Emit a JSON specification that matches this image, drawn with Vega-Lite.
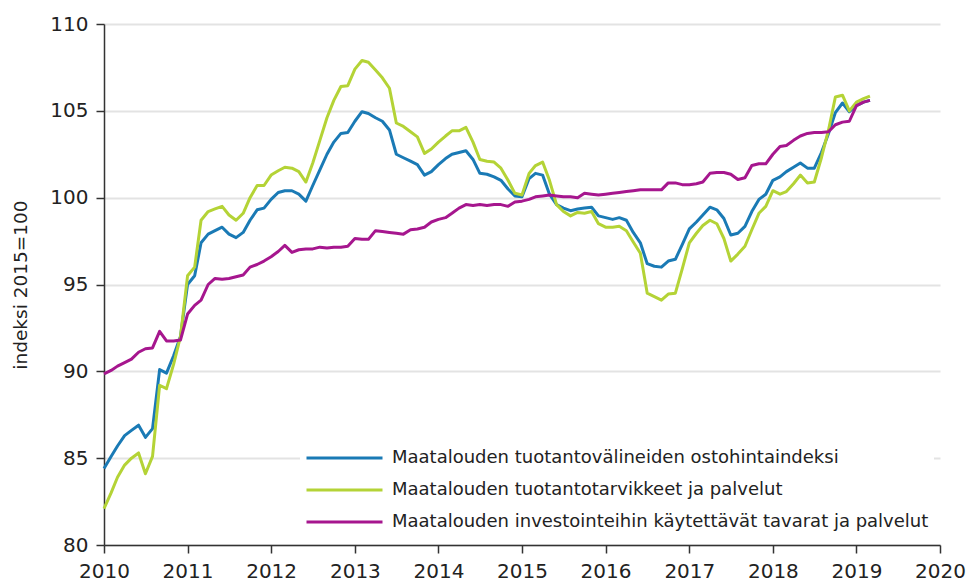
{
  "$schema": "https://vega.github.io/schema/vega-lite/v6.json",
  "width": 836,
  "height": 521,
  "autosize": "none",
  "padding": {"left": 104, "top": 24, "right": 28, "bottom": 41},
  "background": "white",
  "config": {"view": {"stroke": null}, "font": "DejaVu Sans"},
  "data": {
    "format": {"parse": {"d": "date:'%Y-%m'"}},
    "values": [
      {"d":"2010-01","a":84.4,"b":82.1,"c":89.85},
      {"d":"2010-02","a":85.1,"b":83.0,"c":90.05},
      {"d":"2010-03","a":85.7,"b":83.9,"c":90.3},
      {"d":"2010-04","a":86.3,"b":84.6,"c":90.5},
      {"d":"2010-05","a":86.6,"b":85.0,"c":90.7},
      {"d":"2010-06","a":86.9,"b":85.3,"c":91.1},
      {"d":"2010-07","a":86.2,"b":84.1,"c":91.3},
      {"d":"2010-08","a":86.7,"b":85.1,"c":91.35},
      {"d":"2010-09","a":90.1,"b":89.2,"c":92.3},
      {"d":"2010-10","a":89.9,"b":89.0,"c":91.75},
      {"d":"2010-11","a":90.9,"b":90.4,"c":91.75},
      {"d":"2010-12","a":92.0,"b":92.0,"c":91.8},
      {"d":"2011-01","a":95.0,"b":95.5,"c":93.3},
      {"d":"2011-02","a":95.5,"b":96.0,"c":93.8},
      {"d":"2011-03","a":97.4,"b":98.7,"c":94.1},
      {"d":"2011-04","a":97.9,"b":99.2,"c":95.0},
      {"d":"2011-05","a":98.1,"b":99.35,"c":95.35},
      {"d":"2011-06","a":98.3,"b":99.5,"c":95.3},
      {"d":"2011-07","a":97.9,"b":99.0,"c":95.35},
      {"d":"2011-08","a":97.7,"b":98.7,"c":95.45},
      {"d":"2011-09","a":98.0,"b":99.1,"c":95.55},
      {"d":"2011-10","a":98.7,"b":100.0,"c":96.0},
      {"d":"2011-11","a":99.3,"b":100.7,"c":96.15},
      {"d":"2011-12","a":99.4,"b":100.7,"c":96.35},
      {"d":"2012-01","a":99.9,"b":101.3,"c":96.6},
      {"d":"2012-02","a":100.3,"b":101.55,"c":96.9},
      {"d":"2012-03","a":100.4,"b":101.75,"c":97.25},
      {"d":"2012-04","a":100.4,"b":101.7,"c":96.85},
      {"d":"2012-05","a":100.2,"b":101.5,"c":97.0},
      {"d":"2012-06","a":99.8,"b":100.9,"c":97.05},
      {"d":"2012-07","a":100.7,"b":102.0,"c":97.05},
      {"d":"2012-08","a":101.6,"b":103.3,"c":97.15},
      {"d":"2012-09","a":102.5,"b":104.6,"c":97.1},
      {"d":"2012-10","a":103.2,"b":105.6,"c":97.15},
      {"d":"2012-11","a":103.7,"b":106.4,"c":97.15},
      {"d":"2012-12","a":103.75,"b":106.45,"c":97.2},
      {"d":"2013-01","a":104.4,"b":107.4,"c":97.65},
      {"d":"2013-02","a":104.95,"b":107.9,"c":97.6},
      {"d":"2013-03","a":104.85,"b":107.8,"c":97.6},
      {"d":"2013-04","a":104.6,"b":107.35,"c":98.1},
      {"d":"2013-05","a":104.4,"b":106.9,"c":98.05},
      {"d":"2013-06","a":103.9,"b":106.3,"c":98.0},
      {"d":"2013-07","a":102.5,"b":104.3,"c":97.95},
      {"d":"2013-08","a":102.3,"b":104.1,"c":97.9},
      {"d":"2013-09","a":102.1,"b":103.8,"c":98.15},
      {"d":"2013-10","a":101.9,"b":103.5,"c":98.2},
      {"d":"2013-11","a":101.3,"b":102.55,"c":98.3},
      {"d":"2013-12","a":101.5,"b":102.8,"c":98.6},
      {"d":"2014-01","a":101.9,"b":103.2,"c":98.75},
      {"d":"2014-02","a":102.25,"b":103.55,"c":98.85},
      {"d":"2014-03","a":102.5,"b":103.85,"c":99.1},
      {"d":"2014-04","a":102.6,"b":103.85,"c":99.4},
      {"d":"2014-05","a":102.7,"b":104.05,"c":99.6},
      {"d":"2014-06","a":102.2,"b":103.2,"c":99.55},
      {"d":"2014-07","a":101.4,"b":102.2,"c":99.6},
      {"d":"2014-08","a":101.35,"b":102.1,"c":99.55},
      {"d":"2014-09","a":101.2,"b":102.05,"c":99.6},
      {"d":"2014-10","a":101.0,"b":101.7,"c":99.6},
      {"d":"2014-11","a":100.5,"b":101.0,"c":99.5},
      {"d":"2014-12","a":100.1,"b":100.25,"c":99.75},
      {"d":"2015-01","a":100.05,"b":100.15,"c":99.8},
      {"d":"2015-02","a":101.1,"b":101.4,"c":99.9},
      {"d":"2015-03","a":101.4,"b":101.85,"c":100.05},
      {"d":"2015-04","a":101.3,"b":102.05,"c":100.1},
      {"d":"2015-05","a":100.2,"b":101.0,"c":100.15},
      {"d":"2015-06","a":99.6,"b":99.6,"c":100.1},
      {"d":"2015-07","a":99.4,"b":99.2,"c":100.05},
      {"d":"2015-08","a":99.25,"b":98.95,"c":100.05},
      {"d":"2015-09","a":99.35,"b":99.15,"c":100.0},
      {"d":"2015-10","a":99.4,"b":99.1,"c":100.25},
      {"d":"2015-11","a":99.45,"b":99.2,"c":100.2},
      {"d":"2015-12","a":98.95,"b":98.5,"c":100.15},
      {"d":"2016-01","a":98.85,"b":98.3,"c":100.2},
      {"d":"2016-02","a":98.75,"b":98.3,"c":100.25},
      {"d":"2016-03","a":98.85,"b":98.35,"c":100.3},
      {"d":"2016-04","a":98.7,"b":98.1,"c":100.35},
      {"d":"2016-05","a":98.0,"b":97.45,"c":100.4},
      {"d":"2016-06","a":97.4,"b":96.8,"c":100.45},
      {"d":"2016-07","a":96.2,"b":94.5,"c":100.45},
      {"d":"2016-08","a":96.05,"b":94.3,"c":100.45},
      {"d":"2016-09","a":96.0,"b":94.1,"c":100.45},
      {"d":"2016-10","a":96.35,"b":94.45,"c":100.85},
      {"d":"2016-11","a":96.45,"b":94.5,"c":100.85},
      {"d":"2016-12","a":97.3,"b":95.9,"c":100.75},
      {"d":"2017-01","a":98.2,"b":97.4,"c":100.75},
      {"d":"2017-02","a":98.6,"b":97.95,"c":100.8},
      {"d":"2017-03","a":99.0,"b":98.4,"c":100.9},
      {"d":"2017-04","a":99.45,"b":98.7,"c":101.4},
      {"d":"2017-05","a":99.3,"b":98.5,"c":101.45},
      {"d":"2017-06","a":98.8,"b":97.65,"c":101.45},
      {"d":"2017-07","a":97.85,"b":96.35,"c":101.35},
      {"d":"2017-08","a":97.95,"b":96.75,"c":101.05},
      {"d":"2017-09","a":98.35,"b":97.2,"c":101.15},
      {"d":"2017-10","a":99.2,"b":98.15,"c":101.85},
      {"d":"2017-11","a":99.9,"b":99.1,"c":101.95},
      {"d":"2017-12","a":100.2,"b":99.5,"c":101.95},
      {"d":"2018-01","a":101.0,"b":100.4,"c":102.5},
      {"d":"2018-02","a":101.2,"b":100.2,"c":102.95},
      {"d":"2018-03","a":101.5,"b":100.35,"c":103.0},
      {"d":"2018-04","a":101.75,"b":100.8,"c":103.3},
      {"d":"2018-05","a":102.0,"b":101.3,"c":103.55},
      {"d":"2018-06","a":101.7,"b":100.85,"c":103.7},
      {"d":"2018-07","a":101.7,"b":100.9,"c":103.75},
      {"d":"2018-08","a":102.6,"b":102.3,"c":103.75},
      {"d":"2018-09","a":103.7,"b":103.9,"c":103.8},
      {"d":"2018-10","a":104.9,"b":105.8,"c":104.2},
      {"d":"2018-11","a":105.45,"b":105.9,"c":104.35},
      {"d":"2018-12","a":104.95,"b":105.0,"c":104.4},
      {"d":"2019-01","a":105.3,"b":105.5,"c":105.3},
      {"d":"2019-02","a":105.5,"b":105.7,"c":105.5},
      {"d":"2019-03","a":105.6,"b":105.85,"c":105.6}
    ]
  },
  "transform": [{"fold": ["a", "b", "c"], "as": ["s", "v"]}],
  "mark": {"type": "line", "strokeWidth": 3, "strokeJoin": "round"},
  "encoding": {
    "x": {
      "field": "d",
      "type": "temporal",
      "scale": {"domain": [{"year": 2010, "month": 1, "date": 1}, {"year": 2020, "month": 1, "date": 1}]},
      "axis": {
        "title": null,
        "format": "%Y",
        "tickCount": {"interval": "year", "step": 1},
        "grid": false,
        "domainColor": "#333333",
        "domainWidth": 1.5,
        "tickColor": "#333333",
        "tickWidth": 1.5,
        "tickSize": 8,
        "labelFontSize": 20,
        "labelPadding": 8,
        "labelColor": "#222222",
        "labelFlush": false,
        "labelOverlap": false
      }
    },
    "y": {
      "field": "v",
      "type": "quantitative",
      "scale": {"domain": [80, 110], "nice": false, "zero": false},
      "axis": {
        "values": [80, 85, 90, 95, 100, 105, 110],
        "grid": true,
        "gridColor": "#e3e3e3",
        "gridWidth": 2,
        "domainColor": "#333333",
        "domainWidth": 1.5,
        "tickColor": "#333333",
        "tickWidth": 1.5,
        "tickSize": 8,
        "labelFontSize": 20,
        "labelPadding": 8,
        "labelColor": "#222222",
        "title": "indeksi 2015=100",
        "titleFontSize": 18.5,
        "titleFontWeight": "normal",
        "titleColor": "#222222",
        "titleAngle": -90,
        "titleAlign": "center",
        "titleBaseline": "middle",
        "titleX": -84,
        "titleY": 260.5
      }
    },
    "color": {
      "field": "s",
      "type": "nominal",
      "scale": {"domain": ["a", "b", "c"], "range": ["#1a7ab5", "#b4d336", "#a6168e"]},
      "legend": {
        "orient": "none",
        "legendX": 196,
        "legendY": 419,
        "title": null,
        "symbolType": "stroke",
        "symbolSize": 5776,
        "symbolStrokeWidth": 3,
        "clipHeight": 20,
        "rowPadding": 12,
        "labelFontSize": 18,
        "labelOffset": 8,
        "labelLimit": 800,
        "labelColor": "#222222",
        "fillColor": "white",
        "padding": 5,
        "labelExpr": "datum.value == 'a' ? 'Maatalouden tuotantovälineiden ostohintaindeksi' : datum.value == 'b' ? 'Maatalouden tuotantotarvikkeet ja palvelut' : 'Maatalouden investointeihin käytettävät tavarat ja palvelut'"
      }
    }
  }
}
